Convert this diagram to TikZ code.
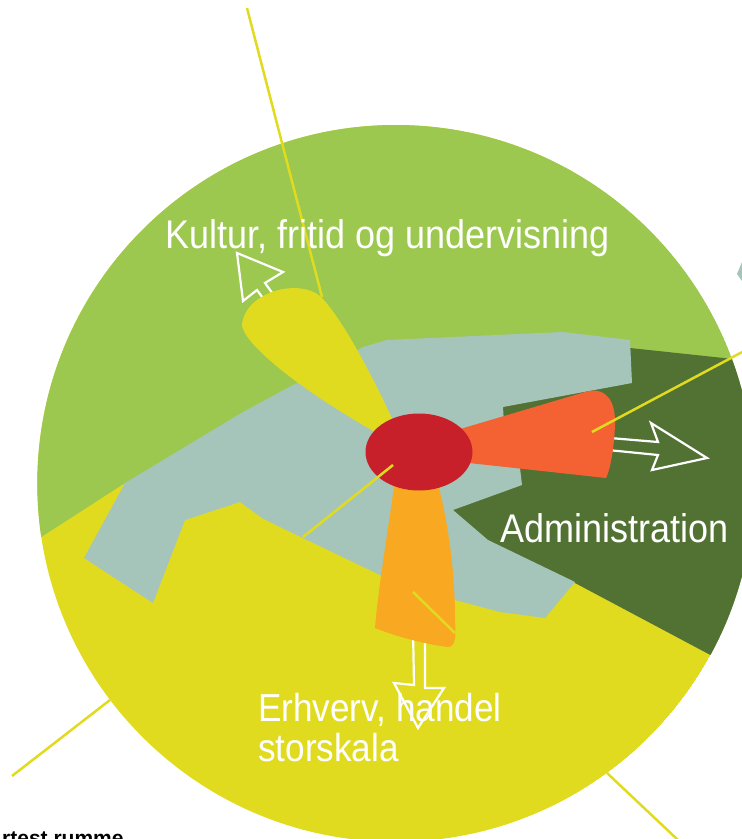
\documentclass[tikz,border=0pt]{standalone}
\usepackage{fontspec}
\setmainfont{Liberation Sans}
\newfontfamily\labelfont[FakeStretch=0.9]{Liberation Sans}
\definecolor{cyellow}{HTML}{E1DB20}
\definecolor{cgreen}{HTML}{9CC850}
\definecolor{cdark}{HTML}{527234}
\definecolor{cblue}{HTML}{A5C5BA}
\definecolor{cred}{HTML}{C8202A}
\definecolor{corange}{HTML}{F46233}
\definecolor{camber}{HTML}{F9A822}
\tikzset{
  yline/.style={draw=cyellow, line width=2.5},
  warrow/.style={draw=white, line width=2.2, line join=miter},
  lbl/.style={text=white, font=\labelfont\fontsize{40}{40}\selectfont, anchor=base west, inner sep=0},
}
\begin{document}
\begin{tikzpicture}[x=1pt,y=-1pt]
\useasboundingbox (0,0) rectangle (742,839);
\clip (0,0) rectangle (742,839);
% the disc
\coordinate (c) at (395.7,483.4);
\begin{scope}
  \clip (c) circle (358.4);
  \fill[cyellow] (c) circle (358.4);
  \fill[cgreen] (0,0) -- (780,0) -- (780,692) -- (453,510) -- (300,460) -- (125,483) -- (0,563.6) -- cycle;
  \fill[cdark] (453,510) -- (470,430) -- (560,365) -- (630,348) -- (780,364) -- (780,692) -- (575,583) -- (480,545) -- cycle;
  \fill[cblue] (84,558) -- (125,483) -- (243,412) -- (293,385) -- (340,360) -- (363,347) -- (387,340)
     -- (430,338) -- (563,332) -- (630,340) -- (632,383) -- (503,407) -- (505,440) -- (520,468)
     -- (522,485) -- (453,510) -- (488,540) -- (575,582) -- (545,618) -- (500,612) -- (455,600)
     -- (380,575) -- (280,527) -- (262,518) -- (240,502) -- (185,520) -- (153,603) -- cycle;
\end{scope}
% small blue tip at top right
\fill[cblue] (737,274) -- (742,262) -- (742,281) -- cycle;
% long line from the top
\coordinate (t1) at (247,8);
\coordinate (t2) at (322,297);
\draw[yline] (t1) -- (t2);
% outlined arrows
\draw[warrow] (286,312) -- (265,283) -- (283,272) -- (237,253) -- (243,301) -- (257,290) -- (278,319);
\draw[warrow] (598,437) -- (658,442) -- (651,423) -- (707,458) -- (652,470) -- (658,455) -- (598,449);
\draw[warrow] (413,628) -- (414,685) -- (394,683) -- (418,728) -- (444,688) -- (425,688) -- (425,628);
% petals
\fill[cyellow] (405,448) .. controls (385,400) and (345,320) .. (320,296)
   .. controls (298,278) and (245,292) .. (242,325)
   .. controls (245,350) and (330,410) .. (405,448) -- cycle;
\fill[corange] (440,435) -- (585,392) .. controls (605,386) and (616,400) .. (615,425)
   .. controls (614,450) and (610,470) .. (606,478) -- (460,462) -- cycle;
\fill[camber] (395,480) .. controls (388,530) and (378,590) .. (375,628)
   .. controls (400,638) and (430,645) .. (448,647)
   .. controls (456,647) and (456,635) .. (455,620)
   .. controls (455,560) and (445,510) .. (437,480) -- cycle;
\fill[cred] (419,452) ellipse [x radius=53.5, y radius=38.5];
% thin yellow lines
\coordinate (a1) at (303,537); \coordinate (a2) at (393,465);
\coordinate (b1) at (592,432); \coordinate (b2) at (746,350);
\coordinate (d1) at (413,592); \coordinate (d2) at (455,633);
\coordinate (e1) at (12,776);  \coordinate (e2) at (110,700);
\coordinate (f1) at (607,773); \coordinate (f2) at (678,840);
\draw[yline] (a1) -- (a2);
\draw[yline] (b1) -- (b2);
\draw[yline] (d1) -- (d2);
\draw[yline] (e1) -- (e2);
\draw[yline] (f1) -- (f2);
% labels
\node[lbl] (kultur) at (165,248) {Kultur, fritid og undervisning};
\node[lbl] (adm) at (500,542) {Administration};
\node[lbl, align=left, font=\labelfont\fontsize{39}{40}\selectfont] (erh) at (258,761) {Erhverv, handel\\storskala};
\node[anchor=base west, inner sep=0, font=\bfseries\fontsize{21}{21}\selectfont] (cut) at (2,845) {rtest rumme};
\end{tikzpicture}
\end{document}
